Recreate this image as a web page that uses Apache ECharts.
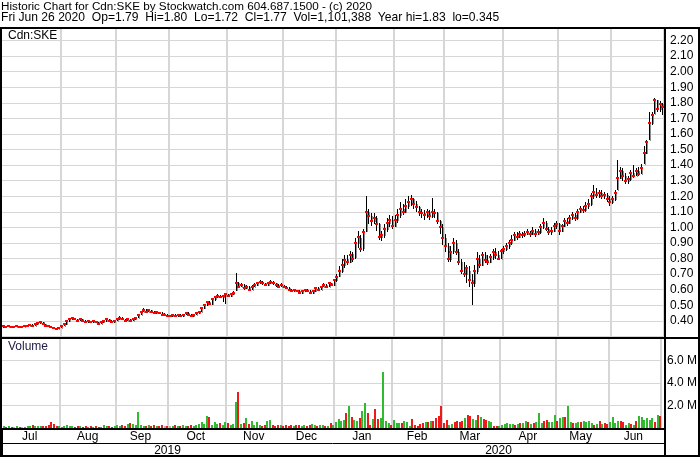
<!DOCTYPE html>
<html><head><meta charset="utf-8">
<script src="https://cdn.jsdelivr.net/npm/echarts@6/dist/echarts.min.js"></script>
<style>html,body{margin:0;padding:0;background:#fff}#c{width:700px;height:457px}</style>
</head><body><div id="c"></div><script>
// ---- trading calendar (TSX-V) ----
const firstDay = [2019, 6, 2];   // 2019-07-02
const lastDay = [2020, 5, 26];   // 2020-06-26
const holidays = ['2019-08-05','2019-09-02','2019-10-14','2019-12-25','2019-12-26','2020-01-01','2020-02-17','2020-04-10','2020-05-18'];
const monthNames = ['Jan','Feb','Mar','Apr','May','Jun','Jul','Aug','Sep','Oct','Nov','Dec'];

// ---- daily prices (Jul 2019 .. Jun 2020) ----
const opens = [
 0.36,0.365,0.36,0.365,0.36,0.36,0.365,0.36,0.36,0.365,0.37,0.375,0.37,0.38,0.385,0.39,0.38,0.37,0.365,0.36,0.355,0.35,
 0.355,0.37,0.38,0.40,0.41,0.42,0.41,0.40,0.41,0.40,0.39,0.40,0.39,0.40,0.39,0.38,0.39,0.40,0.41,0.40,0.39,
 0.40,0.41,0.42,0.41,0.40,0.41,0.40,0.41,0.42,0.44,0.46,0.47,0.46,0.47,0.46,0.45,0.46,0.45,0.44,0.44,
 0.43,0.43,0.44,0.43,0.44,0.43,0.44,0.45,0.44,0.43,0.44,0.45,0.46,0.48,0.50,0.52,0.51,0.54,0.55,0.56,0.55,0.56,
 0.57,0.56,0.57,0.60,0.64,0.62,0.63,0.61,0.62,0.60,0.62,0.63,0.64,0.65,0.64,0.63,0.64,0.65,0.64,0.63,0.62,
 0.62,0.62,0.61,0.60,0.59,0.60,0.59,0.58,0.59,0.60,0.59,0.58,0.59,0.61,0.60,0.62,0.63,0.62,0.64,0.63,
 0.66,0.69,0.72,0.76,0.80,0.78,0.83,0.81,0.90,0.93,0.87,0.98,1.10,1.07,1.04,1.06,1.02,0.94,0.95,0.99,1.03,1.05,
 1.01,1.05,1.08,1.12,1.10,1.14,1.16,1.18,1.15,1.13,1.10,1.09,1.08,1.10,1.07,1.10,1.09,1.04,1.00,
 0.93,0.88,0.80,0.85,0.90,0.84,0.78,0.74,0.70,0.72,0.66,0.64,0.72,0.80,0.76,0.82,0.79,0.78,0.81,0.84,0.82,0.80,
 0.85,0.86,0.88,0.90,0.92,0.95,0.94,0.96,0.95,0.96,0.97,0.96,0.98,0.96,0.97,1.00,1.03,0.99,0.97,0.98,1.01,
 1.02,0.98,1.01,1.04,1.03,1.06,1.08,1.06,1.10,1.12,1.11,1.14,1.15,1.20,1.23,1.21,1.22,1.20,1.21,1.18,
 1.16,1.18,1.24,1.32,1.36,1.33,1.30,1.31,1.35,1.33,1.36,1.34,1.41,1.48,1.56,1.67,1.73,1.82,1.76,1.79
];
const highs = [
 0.37,0.365,0.37,0.365,0.365,0.37,0.365,0.365,0.37,0.375,0.38,0.38,0.385,0.39,0.40,0.39,0.38,0.375,0.37,0.36,0.355,0.36,
 0.375,0.385,0.405,0.42,0.425,0.42,0.415,0.415,0.41,0.405,0.405,0.40,0.405,0.40,0.39,0.395,0.405,0.415,0.41,0.405,0.405,
 0.415,0.43,0.425,0.415,0.415,0.41,0.415,0.425,0.445,0.465,0.48,0.475,0.475,0.47,0.465,0.465,0.46,0.455,0.45,0.445,
 0.44,0.445,0.445,0.445,0.445,0.445,0.455,0.455,0.445,0.445,0.455,0.465,0.485,0.505,0.525,0.525,0.545,0.56,0.57,0.565,0.565,0.575,
 0.575,0.58,0.59,0.71,0.65,0.645,0.635,0.63,0.625,0.63,0.64,0.65,0.66,0.655,0.645,0.65,0.66,0.655,0.645,0.635,0.64,
 0.63,0.625,0.615,0.605,0.605,0.60,0.595,0.595,0.605,0.605,0.595,0.595,0.615,0.615,0.625,0.64,0.635,0.645,0.645,0.665,
 0.70,0.75,0.80,0.82,0.82,0.85,0.84,0.93,0.98,0.95,0.99,1.20,1.12,1.09,1.09,1.07,1.03,0.98,1.02,1.06,1.08,1.07,
 1.08,1.12,1.16,1.15,1.18,1.20,1.21,1.19,1.17,1.14,1.12,1.11,1.12,1.11,1.19,1.12,1.10,1.05,1.02,
 0.96,0.90,0.88,0.93,0.92,0.86,0.80,0.78,0.76,0.75,0.70,0.76,0.84,0.82,0.84,0.84,0.82,0.83,0.86,0.87,0.85,0.86,
 0.88,0.90,0.92,0.95,0.97,0.97,0.98,0.97,0.98,0.99,0.98,1.00,0.99,0.99,1.02,1.06,1.04,1.00,1.00,1.03,1.04,
 1.03,1.02,1.06,1.06,1.08,1.10,1.09,1.12,1.14,1.14,1.16,1.18,1.22,1.27,1.25,1.24,1.24,1.23,1.22,1.20,
 1.20,1.24,1.43,1.39,1.38,1.35,1.33,1.37,1.40,1.38,1.39,1.41,1.52,1.56,1.74,1.74,1.83,1.82,1.81,1.80
];
const lows = [
 0.355,0.355,0.36,0.355,0.355,0.36,0.355,0.355,0.36,0.36,0.365,0.365,0.37,0.375,0.38,0.375,0.365,0.36,0.355,0.35,0.345,0.35,
 0.355,0.365,0.375,0.395,0.405,0.405,0.395,0.40,0.395,0.385,0.385,0.385,0.385,0.385,0.375,0.38,0.385,0.395,0.395,0.385,0.385,
 0.40,0.405,0.405,0.395,0.40,0.395,0.40,0.405,0.42,0.435,0.455,0.455,0.455,0.455,0.445,0.445,0.445,0.435,0.43,0.425,
 0.425,0.425,0.425,0.425,0.425,0.425,0.435,0.435,0.425,0.425,0.435,0.445,0.455,0.475,0.495,0.50,0.505,0.53,0.545,0.545,0.52,0.51,
 0.555,0.555,0.565,0.59,0.61,0.615,0.60,0.605,0.595,0.60,0.615,0.625,0.635,0.63,0.625,0.625,0.635,0.63,0.615,0.61,0.615,
 0.61,0.605,0.595,0.585,0.585,0.585,0.575,0.575,0.585,0.585,0.575,0.575,0.585,0.595,0.595,0.615,0.615,0.615,0.625,0.625,
 0.65,0.68,0.71,0.74,0.76,0.77,0.78,0.80,0.87,0.84,0.85,0.97,1.02,1.01,1.02,0.98,0.92,0.91,0.93,0.97,1.00,0.99,
 1.00,1.03,1.06,1.08,1.09,1.12,1.14,1.12,1.10,1.07,1.06,1.05,1.06,1.05,1.06,1.06,1.02,0.96,0.89,
 0.84,0.78,0.78,0.83,0.82,0.76,0.70,0.68,0.64,0.62,0.50,0.62,0.70,0.74,0.75,0.77,0.76,0.77,0.79,0.80,0.79,0.80,
 0.83,0.85,0.86,0.89,0.91,0.92,0.93,0.93,0.94,0.95,0.94,0.95,0.94,0.95,0.96,0.99,0.98,0.95,0.95,0.97,0.99,
 0.95,0.97,1.00,1.01,1.02,1.05,1.04,1.05,1.09,1.09,1.10,1.12,1.14,1.18,1.19,1.19,1.18,1.18,1.16,1.14,
 1.15,1.17,1.24,1.31,1.30,1.28,1.28,1.30,1.32,1.33,1.33,1.34,1.41,1.47,1.56,1.66,1.73,1.74,1.74,1.72
];
const closes = [
 0.365,0.36,0.365,0.36,0.36,0.365,0.36,0.36,0.365,0.37,0.375,0.37,0.38,0.385,0.39,0.38,0.37,0.365,0.36,0.355,0.35,0.355,
 0.37,0.38,0.40,0.41,0.42,0.41,0.40,0.41,0.40,0.39,0.40,0.39,0.40,0.39,0.38,0.39,0.40,0.41,0.40,0.39,0.40,
 0.41,0.42,0.41,0.40,0.41,0.40,0.41,0.42,0.44,0.46,0.47,0.46,0.47,0.46,0.45,0.46,0.45,0.44,0.44,0.43,
 0.43,0.44,0.43,0.44,0.43,0.44,0.45,0.44,0.43,0.44,0.45,0.46,0.48,0.50,0.52,0.51,0.54,0.55,0.56,0.55,0.56,0.57,
 0.56,0.57,0.58,0.64,0.62,0.63,0.61,0.62,0.60,0.62,0.63,0.64,0.65,0.64,0.63,0.64,0.65,0.64,0.63,0.62,0.63,
 0.62,0.61,0.60,0.59,0.60,0.59,0.58,0.59,0.60,0.59,0.58,0.59,0.61,0.60,0.62,0.63,0.62,0.64,0.63,0.66,
 0.68,0.72,0.76,0.79,0.78,0.82,0.80,0.90,0.94,0.86,0.97,1.10,1.07,1.04,1.06,1.02,0.94,0.95,0.99,1.03,1.05,1.01,
 1.05,1.08,1.12,1.10,1.14,1.16,1.18,1.15,1.13,1.10,1.09,1.08,1.10,1.07,1.10,1.09,1.04,1.00,0.93,
 0.88,0.80,0.84,0.90,0.84,0.78,0.72,0.70,0.74,0.66,0.64,0.72,0.80,0.76,0.82,0.79,0.78,0.81,0.84,0.82,0.80,0.85,
 0.86,0.88,0.90,0.92,0.95,0.94,0.96,0.95,0.96,0.97,0.96,0.98,0.96,0.97,1.00,1.03,0.99,0.97,0.98,1.01,1.02,
 0.98,1.01,1.04,1.03,1.06,1.08,1.06,1.10,1.12,1.11,1.14,1.15,1.20,1.23,1.21,1.22,1.20,1.21,1.18,1.16,
 1.18,1.22,1.32,1.36,1.33,1.30,1.31,1.35,1.33,1.36,1.34,1.38,1.48,1.55,1.67,1.72,1.82,1.76,1.79,1.77
];
// volume in millions of shares
const volumes = [
 0.15,0.1,0.2,0.12,0.1,0.15,0.08,0.12,0.1,0.2,0.15,0.25,0.18,0.2,0.15,0.22,0.18,0.3,0.55,0.35,0.2,0.15,
 0.1,0.2,0.25,0.15,0.18,0.12,0.15,0.2,0.1,0.15,0.12,0.18,0.1,0.15,0.12,0.1,0.25,0.2,0.15,0.1,0.2,
 0.25,0.15,0.3,0.2,0.35,0.45,0.4,0.3,1.45,0.3,0.2,0.15,0.25,0.2,0.3,0.15,0.2,0.3,0.15,0.2,
 0.15,0.2,0.25,0.15,0.2,0.3,0.2,0.15,0.25,0.2,0.3,0.35,0.5,0.4,1.1,1.0,0.3,0.5,0.4,0.45,0.3,0.5,
 0.45,0.3,0.35,2.3,3.2,0.4,0.45,0.9,0.35,0.6,0.3,0.5,0.3,0.2,0.25,0.6,0.75,0.3,0.2,0.25,0.3,
 0.2,0.25,0.15,0.3,0.2,0.25,0.3,0.2,0.25,0.2,0.3,0.35,0.3,0.2,0.3,0.25,0.15,0.2,0.45,0.3,
 0.5,0.8,0.6,0.7,1.35,2.0,1.0,0.75,0.6,0.9,1.5,2.2,1.3,0.3,0.8,1.7,0.8,0.9,5.0,0.6,0.45,0.3,
 0.75,0.45,0.45,0.45,0.6,0.5,0.2,0.8,0.3,0.15,0.35,0.45,0.5,0.5,0.6,0.6,0.9,1.05,2.0,
 0.45,0.7,0.3,0.4,0.5,0.6,0.55,0.6,0.9,1.2,1.1,0.8,0.7,1.2,1.0,0.8,0.7,0.6,0.5,0.15,0.15,0.2,
 0.3,0.35,0.45,0.4,0.35,0.3,0.35,0.45,0.45,0.6,0.5,0.4,0.45,0.5,1.3,0.45,0.6,0.75,0.5,0.5,1.2,
 0.6,0.9,0.95,0.95,2.0,0.5,0.45,0.45,0.5,0.55,0.6,0.5,0.6,0.45,0.3,0.35,0.6,0.4,0.45,0.4,
 0.5,1.0,0.45,0.6,0.6,0.5,0.3,0.45,0.4,0.3,0.6,1.1,1.0,0.75,0.9,0.7,0.9,0.5,1.2,1.101388
];
const priceTicks = {min: 0.29, max: 2.28, step: 0.1};
const volumeTicks = {min: 0, max: 8, step: 2};

// ---- build trading dates ----
const dates = [];
for (let d = new Date(Date.UTC(...firstDay)); d.getTime() <= Date.UTC(...lastDay); d.setUTCDate(d.getUTCDate() + 1)) {
  const wd = d.getUTCDay();
  const s = d.toISOString().slice(0, 10);
  if (wd === 0 || wd === 6 || holidays.includes(s)) continue;
  dates.push(s);
}
const monthStart = new Set(), monthMid = new Set(), yearMid = new Set();
let yearStart = -1;
{
  const groups = {}, ygroups = {};
  dates.forEach((s, i) => {
    const m = s.slice(0, 7), y = s.slice(0, 4);
    (groups[m] = groups[m] || []).push(i);
    (ygroups[y] = ygroups[y] || []).push(i);
    if (i > 0 && dates[i - 1].slice(0, 7) !== m) monthStart.add(i);
    if (i > 0 && dates[i - 1].slice(0, 4) !== y) yearStart = i;
  });
  Object.values(groups).forEach(g => monthMid.add(g[Math.floor((g.length - 1) / 2)]));
  Object.values(ygroups).forEach(g => yearMid.add(g[Math.floor((g.length - 1) / 2)]));
}

const n = dates.length;
const volColors = closes.map((c, i) => {
  const prev = i > 0 ? closes[i - 1] : opens[0];
  return c > prev ? '#2fba2f' : (c < prev ? '#f01818' : '#b4b4b4');
});
const FONT = '"Liberation Sans", Arial, sans-serif';
const fmtVol = v => Math.round(v * 1e6).toLocaleString('en-US');
const headerLine1 = 'Historic Chart for Cdn:SKE by Stockwatch.com 604.687.1500 - (c) 2020';
const headerLine2 = 'Fri Jun 26 2020  Op=' + opens[n-1].toFixed(2) + '  Hi=' + highs[n-1].toFixed(2) + '  Lo=' + lows[n-1].toFixed(2) +
  '  Cl=' + closes[n-1].toFixed(2) + '  Vol=' + fmtVol(volumes[n-1]) +
  '  Year hi=' + String(Math.max(...highs)) + '  lo=' + String(Math.min(...lows));

const gridL = 2, gridW = 662;
const chart = echarts.init(document.getElementById('c'), null, {renderer: 'canvas'});
const lineEl = (x1, y1, x2, y2, w) => ({type: 'line', z: 100, silent: true,
  shape: {x1, y1, x2, y2}, style: {stroke: '#000', lineWidth: w}});

chart.setOption({
  animation: false,
  backgroundColor: '#fff',
  title: [
    {text: headerLine1, left: 1, top: 1, padding: 0,
     textStyle: {fontSize: 11.7, fontWeight: 'normal', color: '#000', fontFamily: FONT, lineHeight: 11}},
    {text: headerLine2, left: 1, top: 12, padding: 0,
     textStyle: {fontSize: 12.1, fontWeight: 'normal', color: '#000', fontFamily: FONT, lineHeight: 11}},
    {text: 'Cdn:SKE', left: 8, top: 30, padding: 0,
     textStyle: {fontSize: 12, fontWeight: 'normal', color: '#000', fontFamily: FONT, lineHeight: 12}},
    {text: 'Volume', left: 8, top: 341, padding: 0,
     textStyle: {fontSize: 12, fontWeight: 'normal', color: '#1c1c44', fontFamily: FONT, lineHeight: 12}}
  ],
  grid: [
    {left: gridL, top: 28, width: gridW, height: 310},
    {left: gridL, top: 338, width: gridW, height: 90},
    {left: gridL, top: 429, width: gridW, height: 27}
  ],
  xAxis: [
    {type: 'category', gridIndex: 0, data: dates, boundaryGap: true,
     axisLine: {show: false}, axisTick: {show: false}, axisLabel: {show: false},
     splitLine: {show: true, interval: i => monthStart.has(i), lineStyle: {color: '#d6d6d6', width: 2}}},
    {type: 'category', gridIndex: 1, data: dates, boundaryGap: true,
     axisLine: {show: false}, axisTick: {show: false},
     axisLabel: {show: true, interval: i => monthMid.has(i), formatter: v => monthNames[+v.slice(5, 7) - 1],
                 margin: 3, fontSize: 12, color: '#000', fontFamily: FONT},
     splitLine: {show: true, interval: i => monthStart.has(i), lineStyle: {color: '#d6d6d6', width: 2}}},
    {type: 'category', gridIndex: 2, data: dates, boundaryGap: true,
     axisLine: {show: false}, axisTick: {show: false},
     axisLabel: {show: true, inside: true, interval: i => yearMid.has(i), formatter: v => v.slice(0, 4),
                 margin: -1, fontSize: 12, color: '#000', fontFamily: FONT},
     splitLine: {show: true, interval: i => i === yearStart, lineStyle: {color: '#000', width: 1}}}
  ],
  yAxis: [
    {type: 'value', gridIndex: 0, position: 'right', min: priceTicks.min, max: priceTicks.max,
     splitNumber: 20, minInterval: priceTicks.step, maxInterval: priceTicks.step,
     axisLine: {show: false}, axisTick: {show: false},
     axisLabel: {margin: 6, fontSize: 12, color: '#000', fontFamily: FONT,
       formatter: v => (v >= 0.35 && v <= 2.25 && Math.abs(v * 10 - Math.round(v * 10)) < 1e-6) ? v.toFixed(2) : ''},
     splitLine: {show: true, lineStyle: {color: '#d6d6d6', width: 1}}},
    {type: 'value', gridIndex: 1, position: 'right', min: volumeTicks.min, max: volumeTicks.max, interval: volumeTicks.step,
     axisLine: {show: false}, axisTick: {show: false},
     axisLabel: {margin: 6, fontSize: 12, color: '#000', fontFamily: FONT,
       formatter: v => (v > 0 && v < volumeTicks.max) ? v.toFixed(1) + ' M' : ''},
     splitLine: {show: true, lineStyle: {color: '#d6d6d6', width: 1}}},
    {type: 'value', gridIndex: 2, show: false}
  ],
  series: [
    {type: 'custom', xAxisIndex: 0, yAxisIndex: 0, clip: true,
     data: dates.map((d, i) => [i, opens[i], highs[i], lows[i], closes[i]]),
     encode: {x: 0, y: [1, 2, 3, 4]},
     renderItem: (params, api) => {
       const i = api.value(0);
       const ph = api.coord([i, api.value(2)]), pl = api.coord([i, api.value(3)]);
       const po = api.coord([i, api.value(1)]), pc = api.coord([i, api.value(4)]);
       const x = Math.floor(ph[0]) + 0.5;
       const yh = Math.round(ph[1]), yl = Math.max(Math.round(pl[1]), yh + 1);
       const yo = Math.round(po[1]), yc = Math.round(pc[1]);
       return {type: 'group', children: [
         {type: 'line', shape: {x1: x + 1, y1: Math.min(yo, yc), x2: x + 1, y2: Math.max(yo, yc) + 1},
          style: {stroke: '#8e8e8e', lineWidth: 1}},
         {type: 'line', shape: {x1: x, y1: yh, x2: x, y2: yl}, style: {stroke: '#000', lineWidth: 1}},
         {type: 'rect', shape: {x: x - 1.5, y: yc - 1, width: 3, height: 2}, style: {fill: '#ff0000'}}
       ]};
     }},
    {type: 'custom', xAxisIndex: 1, yAxisIndex: 1, clip: true,
     data: volumes.map((v, i) => [i, v]),
     encode: {x: 0, y: 1},
     renderItem: (params, api) => {
       const i = api.value(0);
       const top = api.coord([i, api.value(1)]), base = api.coord([i, 0]);
       const x = Math.floor(top[0]);
       const yt = Math.round(top[1]);
       return {type: 'rect', shape: {x: x, y: yt, width: 2, height: Math.max(1, base[1] - yt)},
               style: {fill: volColors[params.dataIndex]}};
     }}
  ],
  graphic: [
    lineEl(0, 28, 700, 28, 2),
    lineEl(1, 27, 1, 457, 2),
    lineEl(699, 27, 699, 457, 2),
    lineEl(665, 27, 665, 457, 2),
    lineEl(0, 338, 700, 338, 2),
    lineEl(0, 429, 665, 429, 2),
    lineEl(0, 443.5, 665, 443.5, 1),
    lineEl(0, 456, 700, 456, 2)
  ]
});
</script></body></html>
